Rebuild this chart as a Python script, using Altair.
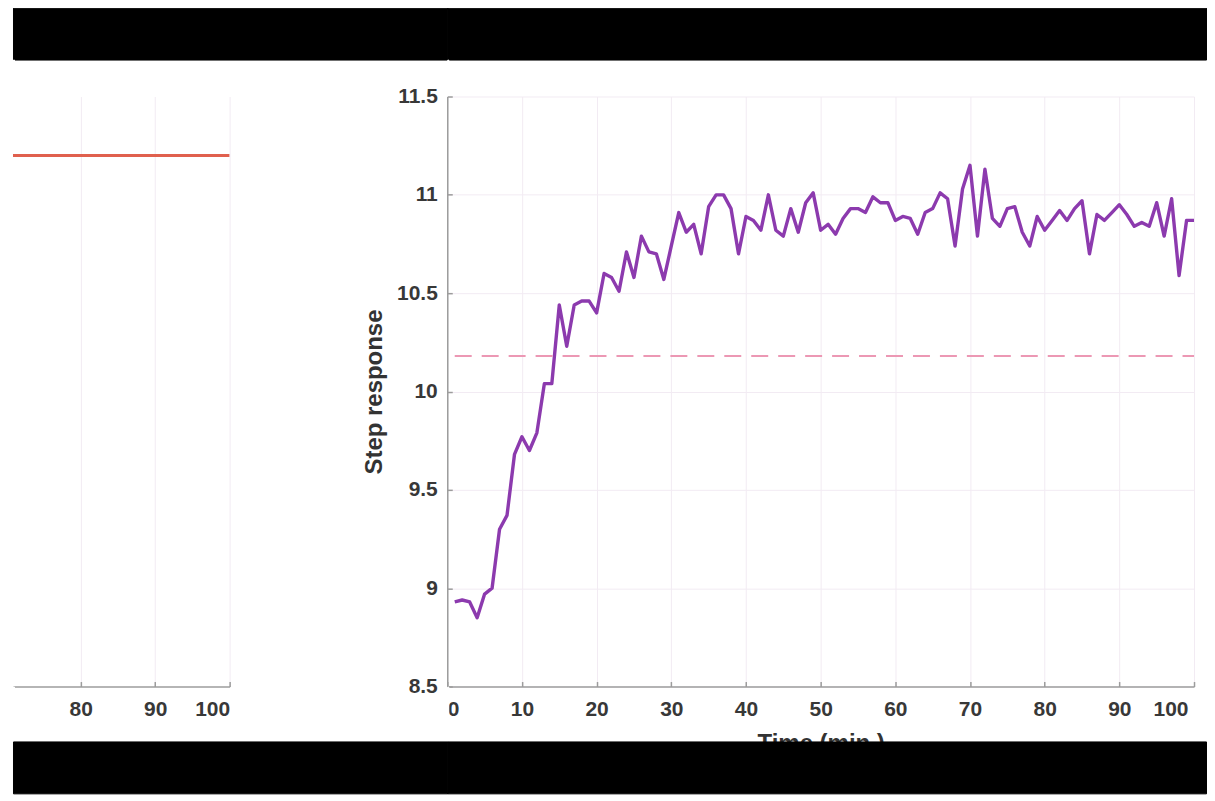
import altair as alt
import pandas as pd

# ---------------- data ----------------
times = list(range(1, 101))
response = [
    8.93, 8.94, 8.93, 8.85, 8.97, 9.00, 9.30, 9.37, 9.68, 9.77,
    9.70, 9.79, 10.04, 10.04, 10.44, 10.23, 10.44, 10.46, 10.46, 10.40,
    10.60, 10.58, 10.51, 10.71, 10.58, 10.79, 10.71, 10.70, 10.57, 10.74,
    10.91, 10.81, 10.85, 10.70, 10.94, 11.00, 11.00, 10.93, 10.70, 10.89,
    10.87, 10.82, 11.00, 10.82, 10.79, 10.93, 10.81, 10.96, 11.01, 10.82,
    10.85, 10.80, 10.88, 10.93, 10.93, 10.91, 10.99, 10.96, 10.96, 10.87,
    10.89, 10.88, 10.80, 10.91, 10.93, 11.01, 10.98, 10.74, 11.03, 11.15,
    10.79, 11.13, 10.88, 10.84, 10.93, 10.94, 10.81, 10.74, 10.89, 10.82,
    10.87, 10.92, 10.87, 10.93, 10.97, 10.70, 10.90, 10.87, 10.91, 10.95,
    10.90, 10.84, 10.86, 10.84, 10.96, 10.79, 10.98, 10.59, 10.87, 10.87,
]
ref_times = [1, 100]
ref_level = [10.18, 10.18]

input_times = [0, 100]
input_level = [0.9, 0.9]

x_ticks = [0, 10, 20, 30, 40, 50, 60, 70, 80, 90, 100]
y_ticks = [8.5, 9, 9.5, 10, 10.5, 11, 11.5]
left_x_ticks = [80, 90, 100]
left_y_grid = [0, 0.1, 0.2, 0.3, 0.4, 0.5, 0.6, 0.7, 0.8, 0.9, 1.0]

# ---------------- style ----------------
FONT = "Liberation Sans"
PURPLE = "#8C3AAE"
RED = "#E0604E"
PINK = "#EC98B4"
GRID = "#F2EBF3"
AXIS = "#9C9C9C"

W, H = 748, 591          # right panel plot area
LW = 217                 # visible part of left panel
COL1, COL2 = 435, 760    # grid columns
TOPBAR, GAP1, GAP2, BOTBAR = 52, 37, 55, 52

resp_df = pd.DataFrame({"t": times, "v": response})
ref_df = pd.DataFrame({"t": ref_times, "v": ref_level})
in_df = pd.DataFrame({"t": input_times, "v": input_level})
empty = pd.DataFrame({"a": pd.Series([], dtype="float")})

# ---------------- right panel ----------------
xs = alt.Scale(domain=[0, 100], nice=False, zero=False)
ys = alt.Scale(domain=[8.5, 11.5], nice=False, zero=False)

line = alt.Chart(resp_df).mark_line(color=PURPLE, strokeWidth=3.4, strokeJoin="round").encode(
    x=alt.X("t:Q", scale=xs, axis=alt.Axis(values=x_ticks, format="d", orient="bottom",
                                            ticks=False, tickSize=0, labelPadding=12,
                                            labelOffset=alt.condition("datum.value == 100",
                                                                      alt.value(-6), alt.value(0)),
                                            title="Time (min.)", titlePadding=12)),
    y=alt.Y("v:Q", scale=ys, axis=alt.Axis(values=y_ticks, format="~g", orient="left",
                                            ticks=False, tickSize=0, labelPadding=10,
                                            title="Step response", titlePadding=10)),
)

ref = alt.Chart(ref_df).mark_line(color=PINK, strokeWidth=2, strokeDash=[17, 10]).encode(
    x=alt.X("t:Q", scale=xs, axis=alt.Axis(values=x_ticks, orient="top", offset=-H,
                                            labels=False, domain=False, grid=False,
                                            ticks=True, tickSize=5, title="")),
    y=alt.Y("v:Q", scale=ys, axis=alt.Axis(values=y_ticks, orient="right", offset=-W,
                                            labels=False, domain=False, grid=False,
                                            ticks=True, tickSize=5, title="")),
)

right = alt.layer(line, ref).resolve_axis(x="independent", y="independent").properties(
    width=W, height=H)

# ---------------- left panel (cropped) ----------------
lxs = alt.Scale(domain=[70.9, 100], nice=False, zero=False)
lys = alt.Scale(domain=[0, 1], nice=False, zero=False)

red = alt.Chart(in_df).mark_line(color=RED, strokeWidth=3, clip=True).encode(
    x=alt.X("t:Q", scale=lxs, axis=alt.Axis(values=left_x_ticks, format="d", orient="bottom",
                                             ticks=False, tickSize=0, labelPadding=12, title="")),
    y=alt.Y("v:Q", scale=lys, axis=alt.Axis(values=left_y_grid, labels=False, ticks=False,
                                             domain=False, title="")),
)
red_ticks = alt.Chart(in_df).mark_line(opacity=0, clip=True).encode(
    x=alt.X("t:Q", scale=lxs, axis=alt.Axis(values=left_x_ticks, orient="top", offset=-H,
                                             labels=False, domain=False, grid=False,
                                             ticks=True, tickSize=5, title="")),
    y=alt.Y("v:Q", scale=lys, axis=None),
)
left = alt.layer(red, red_ticks).resolve_axis(x="independent").properties(width=LW, height=H)


# ---------------- letterbox bars / spacers ----------------
def band(width, height, fill):
    return alt.Chart(empty).mark_point(opacity=0).encode(
        x=alt.value(0), y=alt.value(0)
    ).properties(width=width, height=height,
                 view=alt.ViewBackground(fill=fill, stroke=fill, strokeWidth=1))


cells = [
    band(COL1, TOPBAR, "black"), band(COL2, TOPBAR, "black"),
    band(1, GAP1, "white"), band(1, GAP1, "white"),
    left, right,
    band(1, GAP2, "white"), band(1, GAP2, "white"),
    band(COL1, BOTBAR, "black"), band(COL2, BOTBAR, "black"),
]

chart = alt.concat(*cells, columns=2, spacing=0, bounds="flush").properties(
    padding={"left": 4, "top": -2, "right": 0, "bottom": 0},
    background="white",
).configure_view(
    stroke="transparent"
).configure_axis(
    labelFont=FONT, labelFontSize=21, labelFontWeight="bold", labelColor="#383838",
    titleFont=FONT, titleFontSize=24, titleFontWeight="bold", titleColor="#333333",
    domainColor=AXIS, domainWidth=1.5, tickColor=AXIS, tickWidth=1.5,
    gridColor=GRID, gridWidth=1,
)

chart.save("out.html", embed_options={"renderer": "svg", "actions": False})
